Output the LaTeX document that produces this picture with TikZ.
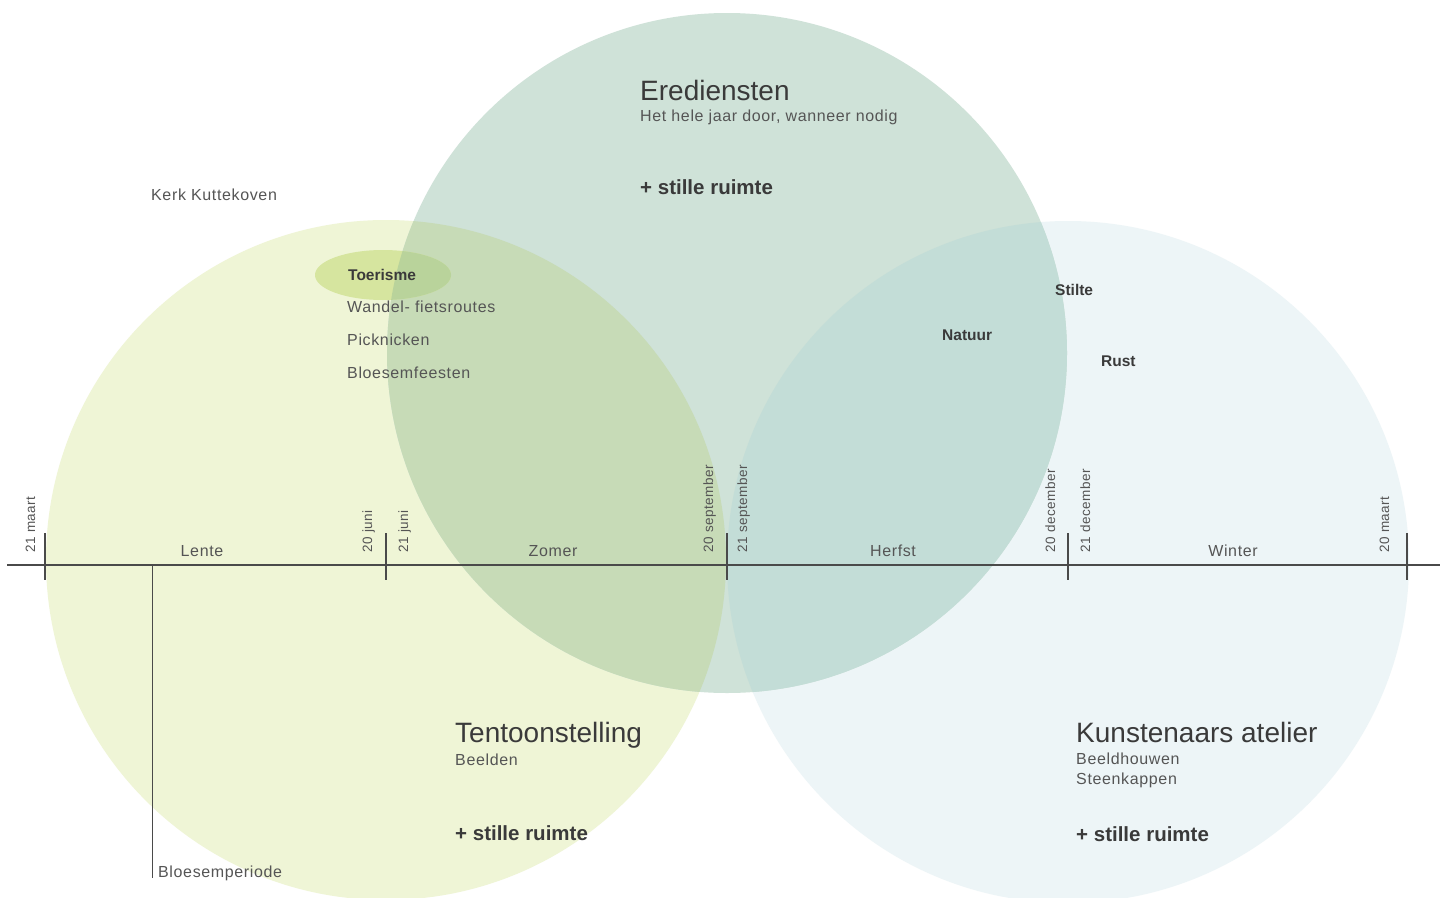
\documentclass[tikz,border=0pt]{standalone}
\usepackage{fontspec}
\setmainfont{Liberation Sans}
\newfontfamily\widesans[LetterSpace=4]{Liberation Sans}
\definecolor{cLeft}{HTML}{EFF5D6}
\definecolor{cTop}{HTML}{CFE2D8}
\definecolor{cRight}{HTML}{EDF5F7}
\definecolor{cLT}{HTML}{C7DBB7}
\definecolor{cTR}{HTML}{C3DDD7}
\definecolor{cEll}{HTML}{D6E59F}
\definecolor{cEllT}{HTML}{B9D39B}
\definecolor{txt}{HTML}{3A3A3A}
\definecolor{txtl}{HTML}{555555}
\definecolor{lin}{HTML}{4A4A4A}
\tikzset{
  title/.style={anchor=base west, inner sep=0pt, text=txt, font=\fontsize{28}{30}\selectfont},
  sub/.style={anchor=base west, inner sep=0pt, text=txtl, font=\widesans\fontsize{16}{18}\selectfont},
  plus/.style={anchor=base west, inner sep=0pt, text=txt, font=\bfseries\fontsize{20.5}{22}\selectfont},
  kw/.style={anchor=base west, inner sep=0pt, text=txt, font=\bfseries\fontsize{15.5}{18}\selectfont},
  season/.style={anchor=base, inner sep=0pt, text=txtl, font=\widesans\fontsize{16}{18}\selectfont},
  date/.style={anchor=base west, rotate=90, inner sep=0pt, text=txtl, font=\widesans\fontsize{13.5}{14}\selectfont},
  axis/.style={draw=lin, line width=1.3pt},
  tick/.style={draw=lin, line width=1.3pt}
}
\begin{document}
\begin{tikzpicture}[x=1pt,y=-1pt]
\useasboundingbox (0,0) rectangle (1448,897);
\fill[white] (0,0) rectangle (1448,897);
% circles
\fill[cLeft] (386,560) circle (340);
\fill[cRight] (1068,562) circle (341);
\fill[cTop] (727,353) circle (340);
\begin{scope}
  \clip (727,353) circle (340);
  \fill[cLT] (386,560) circle (340);
  \fill[cTR] (1068,562) circle (341);
\end{scope}
% Toerisme ellipse
\fill[cEll] (383,275) ellipse [x radius=68, y radius=25];
\begin{scope}
  \clip (727,353) circle (340);
  \fill[cEllT] (383,275) ellipse [x radius=68, y radius=25];
\end{scope}
% timeline
\coordinate (tl0) at (7,565);
\coordinate (tl1) at (1440,565);
\draw[axis] (tl0) -- (tl1);
\foreach \n/\x in {a/45,b/386,c/727,d/1068,e/1407}{
  \coordinate (t\n top) at (\x,533);
  \coordinate (t\n bot) at (\x,580);
  \draw[tick] (t\n top) -- (t\n bot);
}
\coordinate (bl0) at (152,565);
\coordinate (bl1) at (152,878);
\draw[draw=lin, line width=1pt] (bl0) -- (bl1);
% seasons
\node[season] (lente) at (202,556) {Lente};
\node[season] (zomer) at (553,556) {Zomer};
\node[season] (herfst) at (893,556) {Herfst};
\node[season] (winter) at (1233,556) {Winter};
% dates
\node[date] (d1) at (35,553) {21 maart};
\node[date] (d2) at (372,553) {20 juni};
\node[date] (d3) at (408,553) {21 juni};
\node[date] (d4) at (713,553) {20 september};
\node[date] (d5) at (747,553) {21 september};
\node[date] (d6) at (1055,553) {20 december};
\node[date] (d7) at (1090,553) {21 december};
\node[date] (d8) at (1389,553) {20 maart};
% texts
\node[sub] (kerk) at (151,200) {Kerk Kuttekoven};
\node[kw] (toer) at (348,280) {Toerisme};
\node[sub] (wand) at (347,312) {Wandel- fietsroutes};
\node[sub] (pick) at (347,345) {Picknicken};
\node[sub] (bloes) at (347,378) {Bloesemfeesten};
\node[title] (ered) at (640,100) {Erediensten};
\node[sub] (hele) at (640,121) {Het hele jaar door, wanneer nodig};
\node[plus] (sr1) at (640,194) {+ stille ruimte};
\node[kw] (stilte) at (1055,295) {Stilte};
\node[kw] (natuur) at (942,340) {Natuur};
\node[kw] (rust) at (1101,366) {Rust};
\node[title] (tent) at (455,742) {Tentoonstelling};
\node[sub] (beeld) at (455,765) {Beelden};
\node[plus] (sr2) at (455,840) {+ stille ruimte};
\node[title] (kunst) at (1076,742) {Kunstenaars atelier};
\node[sub] (bh) at (1076,764) {Beeldhouwen};
\node[sub] (sk) at (1076,784) {Steenkappen};
\node[plus] (sr3) at (1076,841) {+ stille ruimte};
\node[sub] (bp) at (158,877) {Bloesemperiode};
\end{tikzpicture}
\end{document}
